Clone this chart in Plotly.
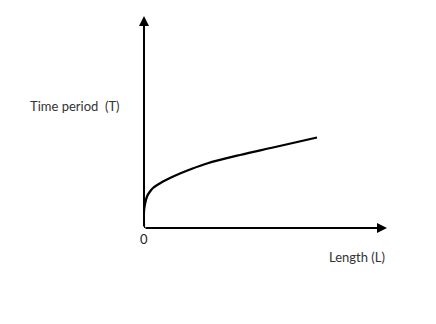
import plotly.graph_objects as go

# Data (arbitrary units)
length_L = [0, 0, 0.1, 0.3, 0.6, 0.9, 1.4, 1.9, 2.6, 3.6, 4.6, 6.3, 9.6, 12.9, 17.3]
period_T = [0, 1.7, 2.4, 3.15, 3.65, 4.0, 4.35, 4.65, 5.0, 5.45, 5.85, 6.45, 7.3, 8.05, 9.05]

x_max = 24.3
y_max = 21.2

x_label = "Length (L)"
y_label = "Time period  (T)"
origin_label = "0"

font_family = "Lato, 'Open Sans', sans-serif"
label_font = dict(family=font_family, size=13, color="#333")

fig = go.Figure()
fig.add_trace(go.Scatter(
    x=length_L, y=period_T, mode="lines",
    line=dict(color="black", width=2.3, shape="spline", smoothing=1.0),
    hoverinfo="skip", showlegend=False, cliponaxis=False,
))

# axes with arrowheads
fig.add_annotation(x=x_max, y=0, ax=0, ay=0, xref="x", yref="y", axref="x", ayref="y",
                   text="", showarrow=True, arrowhead=2, arrowsize=1, arrowwidth=2, arrowcolor="black")
fig.add_annotation(x=0, y=y_max, ax=0, ay=0, xref="x", yref="y", axref="x", ayref="y",
                   text="", showarrow=True, arrowhead=2, arrowsize=1, arrowwidth=2, arrowcolor="black")

fig.add_annotation(x=0, y=-0.052, xref="paper", yref="paper", text=origin_label, showarrow=False,
                   xanchor="center", yanchor="middle",
                   font=dict(family=font_family, size=13, color="#222"))
fig.add_annotation(x=0.877, y=-0.137, xref="paper", yref="paper", text=x_label, showarrow=False,
                   xanchor="center", yanchor="middle", font=label_font)
fig.add_annotation(x=-0.284, y=0.575, xref="paper", yref="paper", text=y_label, showarrow=False,
                   xanchor="center", yanchor="middle", font=label_font)

fig.update_xaxes(range=[0, x_max], visible=False, fixedrange=True)
fig.update_yaxes(range=[0, y_max], visible=False, fixedrange=True)
fig.update_layout(
    width=436, height=324,
    margin=dict(l=144, r=49, t=16, b=96),
    plot_bgcolor="white", paper_bgcolor="white",
    showlegend=False,
)

fig.write_html("out.html", config={"displayModeBar": False})
